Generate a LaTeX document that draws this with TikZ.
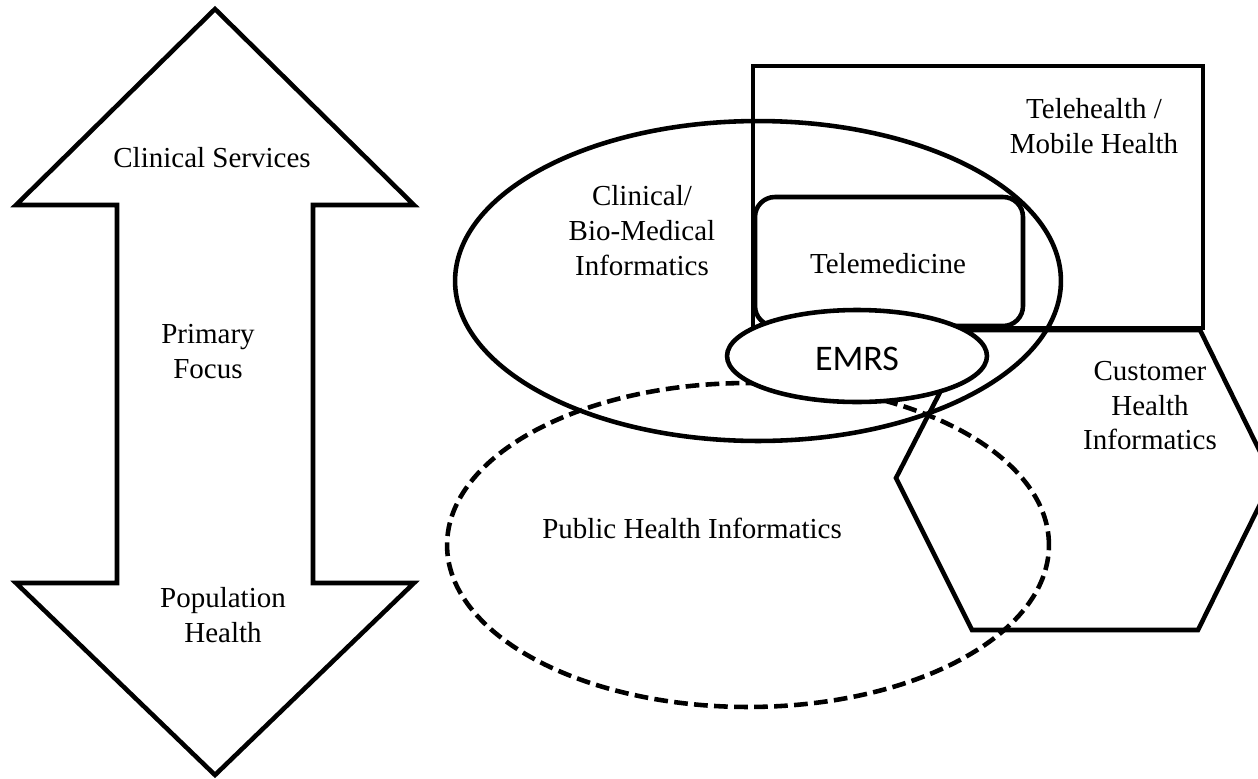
\documentclass[tikz,border=0pt]{standalone}
\usepackage{fontspec}
\setmainfont{Liberation Serif}
\newfontfamily\emrsfont{Carlito}
\begin{document}
\begin{tikzpicture}[x=0.02cm,y=-0.02cm,
  solidline/.style={line width=2.6pt, draw=black, line join=miter},
  dashline/.style={line width=2.6pt, draw=black, dash pattern=on 7.8pt off 3.6pt},
  lbl/.style={font=\fontsize{16.5}{19.9}\selectfont, align=center, inner sep=0pt, anchor=north, execute at begin node=\strut},
  ]
\useasboundingbox (0,0) rectangle (1258,778);
% double arrow
\coordinate (atop) at (215,9);
\coordinate (abot) at (215,775);
\draw[solidline] (atop) -- (414,205) -- (313,205) -- (313,583) -- (414,583)
  -- (abot) -- (16,583) -- (117,583) -- (117,205) -- (16,205) -- cycle;
% clinical ellipse
\coordinate (cce) at (758,281);
\draw[solidline] (cce) ellipse [x radius=6.06cm, y radius=3.2cm];
% telehealth rectangle
\coordinate (th1) at (753,66);
\coordinate (th2) at (1203,328);
\draw[solidline] (th1) rectangle (th2);
% telemedicine rounded rectangle
\coordinate (tm1) at (755,197);
\coordinate (tm2) at (1023,326);
\draw[solidline, rounded corners=0.4cm] (tm1) rectangle (tm2);
% public health dashed ellipse
\coordinate (pce) at (748,545);
\draw[dashline] (pce) ellipse [x radius=6.02cm, y radius=3.24cm];
% hexagon
\coordinate (h1) at (972,330);
\coordinate (h2) at (1200,330);
\coordinate (h3) at (1273,478);
\coordinate (h4) at (1198,630);
\coordinate (h5) at (972,630);
\coordinate (h6) at (896,478);
\draw[solidline] (h1) -- (h2) -- (h3) -- (h4) -- (h5) -- (h6) -- cycle;
% EMRS ellipse
\coordinate (ece) at (857,356);
\draw[solidline, fill=white] (ece) ellipse [x radius=2.6cm, y radius=0.92cm];
% labels
\node[lbl] (cs) at (212,142.5) {Clinical Services};
\node[lbl] (pf) at (208,323.5) {Primary\\Focus};
\node[lbl] (ph) at (223,587.5) {Population\\Health};
\node[lbl] (cbi) at (642,185.5) {Clinical/\\Bio-Medical\\Informatics};
\node[lbl] (tm) at (888,248.5) {Telemedicine};
\node[lbl] (th) at (1094,98.5) {Telehealth /\\Mobile Health};
\node[lbl] (chi) at (1150,360.5) {Customer\\Health\\Informatics};
\node[lbl] (phi) at (692,513.5) {Public Health Informatics};
\node[font=\emrsfont\fontsize{20.5}{24}\selectfont, inner sep=0pt, anchor=base] (emrs) at (857,370) {EMRS};
\end{tikzpicture}
\end{document}
